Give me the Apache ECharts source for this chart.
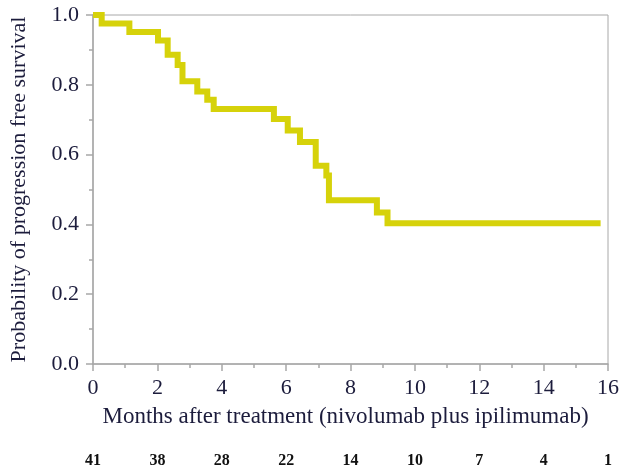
<!DOCTYPE html>
<html><head><meta charset="utf-8">
<script src="https://cdn.jsdelivr.net/npm/echarts@6/dist/echarts.min.js"></script>
<style>html,body{margin:0;padding:0;background:#fff}#c{width:622px;height:469px}</style>
</head><body><div id="c"></div>
<script>
// Kaplan-Meier step points (months, survival probability)
const months   = [0, 0.27, 1.13, 2.02, 2.32, 2.63, 2.78, 3.24, 3.55, 3.75, 5.62, 6.05, 6.43, 6.92, 7.25, 7.33, 8.82, 9.15, 15.77];
const survival = [1.0, 0.976, 0.951, 0.927, 0.886, 0.857, 0.81, 0.781, 0.757, 0.731, 0.702, 0.669, 0.636, 0.568, 0.54, 0.469, 0.434, 0.403, 0.403];
const xTicks = [0, 2, 4, 6, 8, 10, 12, 14, 16];
const atRisk = [41, 38, 28, 22, 14, 10, 7, 4, 1];

const serif = '"Liberation Serif","DejaVu Serif",serif';
const axisGray = '#a8a8a8';
const textColor = '#1c1c3c';

const chart = echarts.init(document.getElementById('c'));
chart.setOption({
  animation: false,
  grid: {left: 91.5, right: 11.5, top: 15, bottom: 104, show: true, borderColor: axisGray, borderWidth: 1, backgroundColor: '#fff'},
  xAxis: [{
    type: 'value', min: 0, max: 16, interval: 2,
    name: 'Months after treatment (nivolumab plus ipilimumab)',
    nameLocation: 'middle', nameGap: 41,
    nameTextStyle: {fontFamily: serif, fontSize: 23, color: textColor, padding: [0, 10, 0, 0]},
    axisLine: {lineStyle: {color: axisGray, width: 1.5}},
    axisTick: {show: true, inside: false, length: 7, lineStyle: {color: axisGray, width: 1.5}},
    minorTick: {show: true, splitNumber: 2, length: 4, lineStyle: {color: axisGray, width: 1.5}},
    splitLine: {show: false},
    axisLabel: {fontFamily: serif, fontSize: 22, color: textColor, margin: 13, showMaxLabel: true}
  }, {
    type: 'value', min: 0, max: 16, interval: 2, position: 'bottom', offset: 81,
    axisLine: {show: false}, axisTick: {show: false}, splitLine: {show: false},
    axisLabel: {fontFamily: serif, fontSize: 16, fontWeight: 'bold', color: '#111',
      formatter: v => { const i = xTicks.indexOf(v); return i >= 0 ? String(atRisk[i]) : ''; }}
  }],
  yAxis: {
    type: 'value', min: 0, max: 1, interval: 0.2,
    name: 'Probability of progression free survival',
    nameLocation: 'middle', nameGap: 63,
    nameTextStyle: {fontFamily: serif, fontSize: 22, color: textColor},
    axisLine: {show: true, lineStyle: {color: axisGray, width: 1.5}},
    axisTick: {show: true, inside: false, length: 7, lineStyle: {color: axisGray, width: 1.5}},
    minorTick: {show: true, splitNumber: 2, length: 4, lineStyle: {color: axisGray, width: 1.5}},
    splitLine: {show: false},
    axisLabel: {fontFamily: serif, fontSize: 22, color: textColor, margin: 14, formatter: v => v.toFixed(1)}
  },
  series: [{
    type: 'line', step: 'end', showSymbol: false, symbol: 'none',
    data: months.map((m, i) => [m, survival[i]]),
    lineStyle: {color: '#d6d20a', width: 6, join: 'miter', cap: 'butt'},
    xAxisIndex: 0
  }]
});
</script></body></html>
